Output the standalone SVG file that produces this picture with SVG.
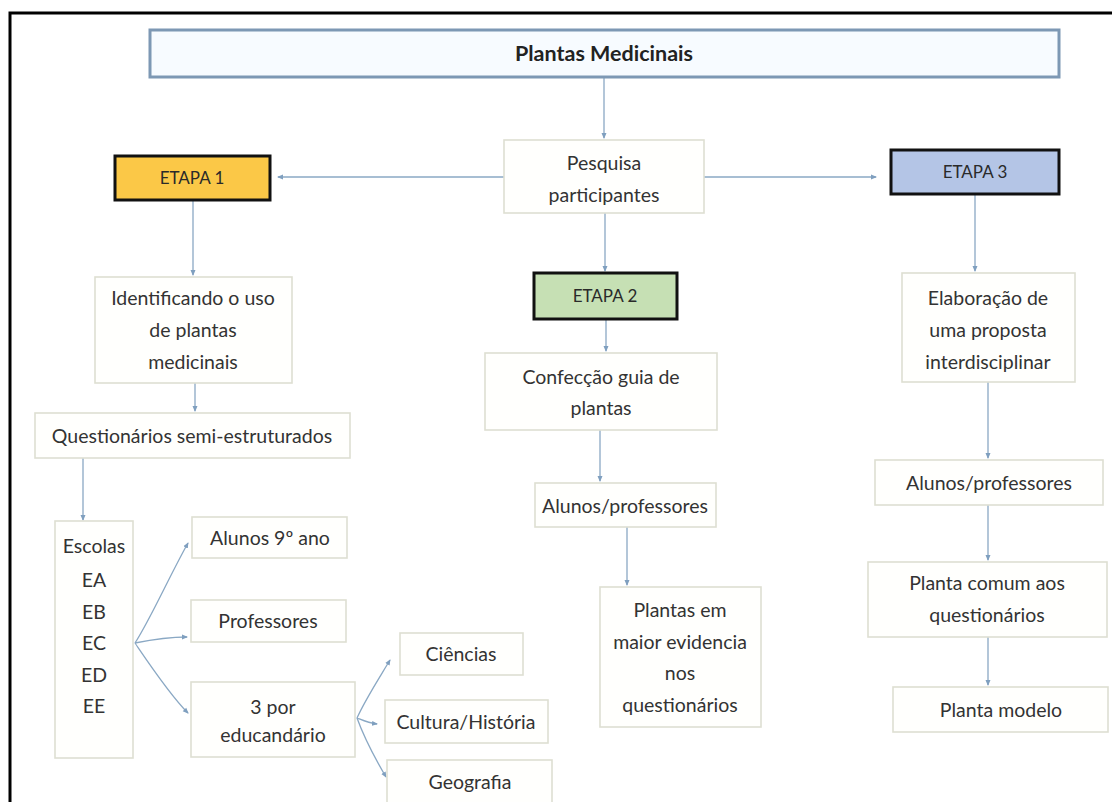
<svg xmlns="http://www.w3.org/2000/svg" width="1112" height="802" viewBox="0 0 1112 802">
<style>
text{font-family:Lato,"Open Sans","Liberation Sans",sans-serif;fill:#333;text-anchor:middle;font-size:19.5px}
.box{fill:#fffffd;stroke:#dedfd2;stroke-width:1.6}
.etapa{stroke:#111;stroke-width:3}
.et{font-size:17px;fill:#2a2a2a}
.conn path{fill:none;stroke:#8aa8c4;stroke-width:1.3}
</style>
<defs>
<marker id="arr" markerWidth="6" markerHeight="6" refX="5" refY="3" orient="auto" markerUnits="userSpaceOnUse">
<path d="M0,0.5 L6,3 L0,5.5 Z" fill="#7f9fbf"/>
</marker>
</defs>
<rect width="1112" height="802" fill="#fff"/>
<path d="M10,802 V13 H1112" fill="none" stroke="#000" stroke-width="3"/>

<g class="conn">
<path d="M604,77 V138" marker-end="url(#arr)"/>
<path d="M504,177 H278" marker-end="url(#arr)"/>
<path d="M704,177 H876" marker-end="url(#arr)"/>
<path d="M605,213 V271" marker-end="url(#arr)"/>
<path d="M193,200 V275" marker-end="url(#arr)"/>
<path d="M195,383 V411" marker-end="url(#arr)"/>
<path d="M83,458 V520" marker-end="url(#arr)"/>
<path d="M135,643 C150,620 170,575 188,543" marker-end="url(#arr)"/>
<path d="M135,643 C150,640 170,637 187,637" marker-end="url(#arr)"/>
<path d="M135,643 C150,665 170,695 188,713" marker-end="url(#arr)"/>
<path d="M357,718 C365,700 378,680 390,660" marker-end="url(#arr)"/>
<path d="M357,718 C362,720 368,723 377,724" marker-end="url(#arr)"/>
<path d="M357,718 C365,740 376,760 386,777" marker-end="url(#arr)"/>
<path d="M606,319 V351" marker-end="url(#arr)"/>
<path d="M600,430 V481" marker-end="url(#arr)"/>
<path d="M627,527 V585" marker-end="url(#arr)"/>
<path d="M975,194 V271" marker-end="url(#arr)"/>
<path d="M988,382 V458" marker-end="url(#arr)"/>
<path d="M988,505 V560" marker-end="url(#arr)"/>
<path d="M988,637 V685" marker-end="url(#arr)"/>
</g>

<g id="title">
<rect x="150" y="30" width="909" height="47" fill="#f7fbff" stroke="#7d98b4" stroke-width="3"/>
<text x="604" y="61" style="font-weight:bold;font-size:21.5px;fill:#222">Plantas Medicinais</text>
</g>
<g id="pesquisa">
<rect class="box" x="504" y="140" width="200" height="73"/>
<text x="604" y="170">Pesquisa</text>
<text x="604" y="202">participantes</text>
</g>
<g id="etapa1">
<rect class="etapa" x="115" y="156" width="155" height="44" fill="#fbc847"/>
<text class="et" x="192" y="184">ETAPA 1</text>
</g>
<g id="etapa2">
<rect class="etapa" x="534" y="273" width="143" height="46" fill="#c6e0b4"/>
<text class="et" x="605" y="302">ETAPA 2</text>
</g>
<g id="etapa3">
<rect class="etapa" x="891" y="150" width="168" height="44" fill="#b4c5e6"/>
<text class="et" x="975" y="178">ETAPA 3</text>
</g>
<g id="identificando">
<rect class="box" x="95" y="277" width="197" height="106"/>
<text x="193" y="305">Identificando o uso</text>
<text x="193" y="337">de plantas</text>
<text x="193" y="369">medicinais</text>
</g>
<g id="questionarios">
<rect class="box" x="35" y="413" width="315" height="45"/>
<text x="192" y="443">Questionários semi-estruturados</text>
</g>
<g id="escolas">
<rect class="box" x="55" y="521" width="78" height="237"/>
<text x="94" y="553">Escolas</text>
<text x="94" y="587">EA</text>
<text x="94" y="619">EB</text>
<text x="94" y="650">EC</text>
<text x="94" y="682">ED</text>
<text x="94" y="713">EE</text>
</g>
<g id="alunos9">
<rect class="box" x="192" y="517" width="155" height="41"/>
<text x="270" y="545">Alunos 9º ano</text>
</g>
<g id="professores">
<rect class="box" x="191" y="600" width="155" height="42"/>
<text x="268" y="628">Professores</text>
</g>
<g id="tres-por">
<rect class="box" x="191" y="682" width="164" height="75"/>
<text x="273" y="714">3 por</text>
<text x="273" y="742">educandário</text>
</g>
<g id="ciencias">
<rect class="box" x="400" y="633" width="123" height="42"/>
<text x="461" y="661">Ciências</text>
</g>
<g id="cultura">
<rect class="box" x="385" y="700" width="163" height="43"/>
<text x="466" y="729">Cultura/História</text>
</g>
<g id="geografia">
<rect class="box" x="387" y="760" width="165" height="50"/>
<text x="470" y="789">Geografia</text>
</g>
<g id="confeccao">
<rect class="box" x="485" y="353" width="232" height="77"/>
<text x="601" y="384">Confecção guia de</text>
<text x="601" y="415">plantas</text>
</g>
<g id="alunos-prof-2">
<rect class="box" x="535" y="483" width="181" height="44"/>
<text x="625" y="513">Alunos/professores</text>
</g>
<g id="plantas-evidencia">
<rect class="box" x="600" y="587" width="161" height="140"/>
<text x="680" y="617">Plantas em</text>
<text x="680" y="649">maior evidencia</text>
<text x="680" y="680">nos</text>
<text x="680" y="712">questionários</text>
</g>
<g id="elaboracao">
<rect class="box" x="902" y="273" width="173" height="109"/>
<text x="988" y="305">Elaboração de</text>
<text x="988" y="337">uma proposta</text>
<text x="988" y="369">interdisciplinar</text>
</g>
<g id="alunos-prof-3">
<rect class="box" x="875" y="460" width="228" height="45"/>
<text x="989" y="490">Alunos/professores</text>
</g>
<g id="planta-comum">
<rect class="box" x="868" y="562" width="239" height="75"/>
<text x="987" y="590">Planta comum aos</text>
<text x="987" y="622">questionários</text>
</g>
<g id="planta-modelo">
<rect class="box" x="893" y="687" width="215" height="45"/>
<text x="1001" y="717">Planta modelo</text>
</g>
</svg>
